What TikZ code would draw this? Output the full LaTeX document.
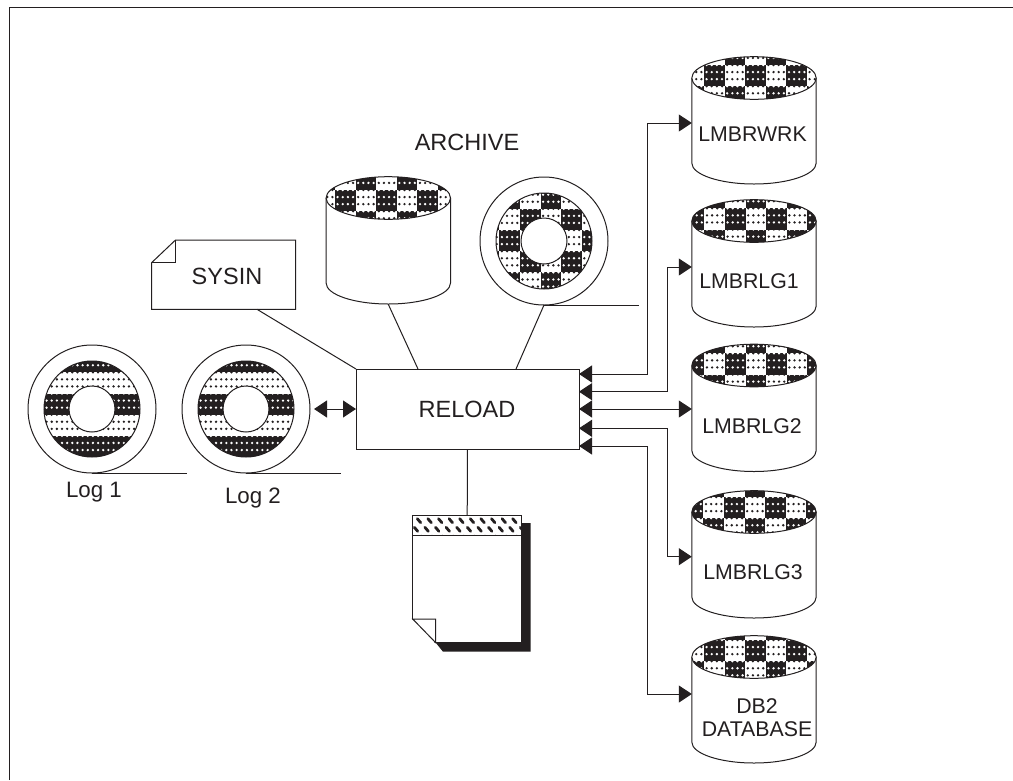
\documentclass[tikz,border=0pt]{standalone}
\usepackage{fontspec}
\setmainfont{Liberation Sans}
\usetikzlibrary{arrows.meta}
\definecolor{ink}{HTML}{231F20}
\tikzset{
  thin line/.style={draw=ink,line width=1pt},
  hookboth/.style={thin line,{Triangle[length=13pt,width=17pt]}-{Triangle[length=13pt,width=17pt]}},
  hole/.style={circle,thin line,fill=white,inner sep=0pt,outer sep=0pt},
  bigtext/.style={font=\fontsize{23.5}{26}\selectfont,text=ink,inner sep=0pt},
  disktext/.style={font=\fontsize{21.3}{24}\selectfont,text=ink,inner sep=0pt,align=center},
  anchorbox/.style={inner sep=0pt,outer sep=0pt},
}
% tessellated fill: x0, y0, checker flag (1 checker, 0 stripes)
\newcommand{\tess}[3]{%
  \foreach \i in {-2,...,6} \foreach \j in {-3,...,3} {%
    \ifodd\numexpr\i*#3+\j\relax\else
      \fill[ink] ({#1+\i*20.6},{#2+\j*21.2}) rectangle ++(20.6,21.2);
    \fi
  }%
  \foreach \i in {-2,...,6} \foreach \j in {-3,...,3} {%
    \ifodd\numexpr\i*#3+\j\relax\def\dotcol{ink}\else\def\dotcol{white}\fi
    \foreach \m in {0,1,2,3} \foreach \k in {0,1,2} {%
      \fill[\dotcol] ({#1+(\i+(\m+.5)/4)*20.6},{#2+(\j+\k/3)*21.2}) circle (1.3pt);
    }%
  }%
}
% drum: name, centre x, centre y of top ellipse, pattern x0, pattern y0
\newcommand{\drum}[5]{%
  \node[anchorbox,minimum width=124.4pt,minimum height=127.3pt] (#1) at (#2,#3+42.65) {};
  \path[thin line,fill=white] (#2-62.2,#3) -- (#2-62.2,#3+85) arc[start angle=180,end angle=360,x radius=62.2pt,y radius=21pt] -- (#2+62.2,#3);
  \begin{scope}
    \clip (#2,#3) ellipse[x radius=62.2pt,y radius=21.3pt];
    \fill[white] (#2-63,#3-22) rectangle (#2+63,#3+22);
    \tess{#4}{#5}{1}
  \end{scope}
  \draw[thin line] (#2,#3) ellipse[x radius=62.2pt,y radius=21.3pt];
}
% reel: name, cx, cy, pattern x0, y0, flag
\newcommand{\reel}[6]{%
  \node[hole,minimum size=128pt] (#1) at (#2,#3) {};
  \begin{scope}
    \clip (#2,#3) circle (48pt);
    \tess{#4}{#5}{#6}
  \end{scope}
  \draw[thin line] (#2,#3) circle (48pt);
  \node[hole,minimum size=46pt] (#1hub) at (#2,#3) {};
}
\begin{document}
\begin{tikzpicture}[x=1pt,y=-1pt]
\useasboundingbox (0,0) rectangle (1013,780);
\fill[white] (0,0) rectangle (1013,780);
% page frame
\draw[ink,line width=1.5pt] (9.5,780) -- (9.5,7.5) -- (1013,7.5);

% drums
\drum{wrk}{754}{78}{704}{65}
\drum{lgone}{754}{221}{725}{208.3}
\drum{lgtwo}{754}{365.5}{725}{353.3}
\drum{lgthree}{754}{512}{724}{497}
\drum{dbtwo}{754}{657}{704}{640}
\drum{arch}{388.3}{198}{335}{190}

% reels
\reel{tape}{544}{241}{499.3}{230}{1}
\reel{logone}{92}{409}{44}{393.5}{0}
\reel{logtwo}{246}{409}{198}{393.5}{0}
\draw[thin line] (tape.south) -- ++(95,0);
\draw[thin line] (logone.south) -- ++(95,0);
\draw[thin line] (logtwo.south) -- ++(95,0);

% drum labels
\node[disktext] (twrk) at (752.5,134) {LMBRWRK};
\node[disktext] (tlgone) at (749,281) {LMBRLG1};
\node[disktext] (tlgtwo) at (752,426) {LMBRLG2};
\node[disktext] (tlgthree) at (753,572.5) {LMBRLG3};
\node[disktext] (tdb) at (757,706) {DB2};
\node[disktext] (tdata) at (757,729) {DATABASE};

% reload
\node[thin line,fill=white,anchorbox,minimum width=223pt,minimum height=80pt] (reload) at (467.5,409) {};
\node[bigtext] (treload) at (467,409) {RELOAD};

\node[bigtext] (tarch) at (467,142) {ARCHIVE};
\node[bigtext,font=\fontsize{22.3}{26}\selectfont] (tlogone) at (94,492) {Log 1};
\node[bigtext,font=\fontsize{22.3}{26}\selectfont] (tlogtwo) at (253,498) {Log 2};

% sysin
\path[thin line,fill=white] (175.5,240) -- (295.7,240) -- (295.7,309.3) -- (151.7,309.3) -- (151.7,262.6) -- cycle;
\draw[thin line] (175.5,240) -- (175.5,262.6) -- (151.7,262.6);
\node[bigtext] (sysin) at (227,276) {SYSIN};
\coordinate (sysinfoot) at (257,309.3);

% document
\fill[ink] (521,523) -- (530.7,523) -- (530.7,651.7) -- (443,651.7) -- (435.7,642.7) -- (521,642.7) -- cycle;
\node[thin line,fill=white,anchorbox,minimum width=109pt,minimum height=127pt] (doc) at (467.2,579.2) {};
\begin{scope}
  \clip (412.7,515.7) rectangle (521.7,535);
  \foreach \yy/\off in {512/5,520.7/3,529.3/0,538/-3} {
    \foreach \c in {0,...,11} {
      \draw[ink,line width=2.8pt,line cap=round] ({416+\off+\c*10.6-1.7},{\yy-2}) -- ({416+\off+\c*10.6+1.7},{\yy+2});
    }
  }
\end{scope}
\draw[thin line] (412.7,515.7) rectangle (521.7,535);
\fill[white] (412,619) -- (412,644) -- (435.7,644) -- cycle;
\draw[thin line] (412.7,619) -- (435.7,642.7) -- (435.7,619) -- cycle;

% plain connectors
\coordinate (rtopa) at (356,369);
\coordinate (rtopb) at (418,369);
\coordinate (rtopc) at (516,369);
\draw[thin line] (sysinfoot) -- (rtopa);
\draw[thin line] (arch.south) -- (rtopb);
\draw[thin line] (tape.south) -- (rtopc);
\draw[thin line] (reload.south) -- (doc.north);

% arrows
\coordinate (logport) at (314,409);
\draw[hookboth] (logport) -- (reload.west);
\coordinate (ra) at (579,374);
\coordinate (rb) at (579,391.7);
\coordinate (rc) at (579,409);
\coordinate (rd) at (579,428.3);
\coordinate (re) at (579,446);
\coordinate (pwrk) at (691.8,123);
\coordinate (plgone) at (691.8,267);
\coordinate (plgtwo) at (691.8,409);
\coordinate (plgthree) at (691.8,556.7);
\coordinate (pdb) at (691.8,694);
\draw[hookboth] (ra) -- ++(68,0) |- (pwrk);
\draw[hookboth] (rb) -- ++(88.5,0) |- (plgone);
\draw[hookboth] (rc) -- (plgtwo);
\draw[hookboth] (rd) -- ++(88.5,0) |- (plgthree);
\draw[hookboth] (re) -- ++(68,0) |- (pdb);
\end{tikzpicture}
\end{document}
